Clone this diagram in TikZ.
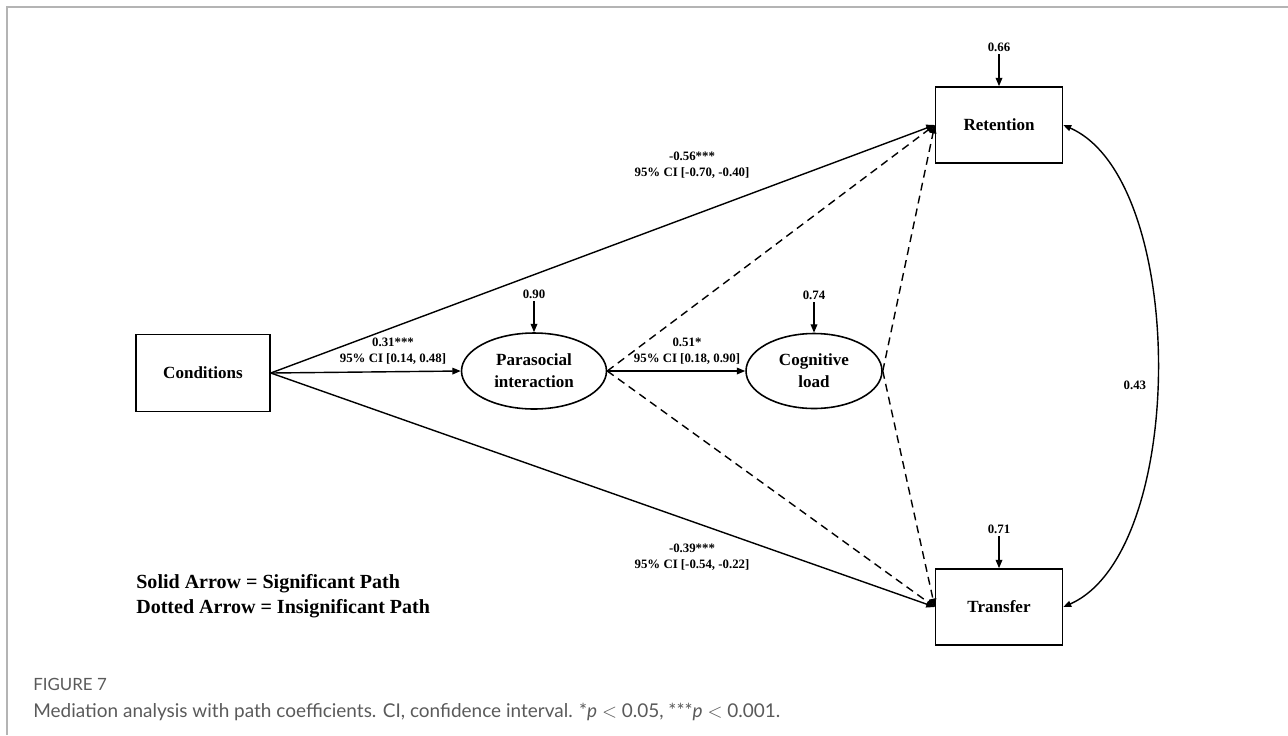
\documentclass[tikz,border=0pt]{standalone}
\usepackage{fontspec}
\setmainfont{Liberation Serif}
\newfontfamily\capfont{Lato}
\usetikzlibrary{shapes.geometric,arrows.meta}
\definecolor{framegray}{HTML}{B4B4B4}
\definecolor{capgray}{HTML}{5A5A5A}

\begin{document}
\begin{tikzpicture}[x=0.02cm,y=-0.02cm,
    >={Triangle[length=4.8pt,width=3.8pt]},
    box/.style={draw,line width=0.9pt,inner sep=0pt,minimum width=2.54cm,minimum height=1.52cm,
        font=\fontsize{9.7}{12.5}\selectfont\bfseries},
    latent/.style={ellipse,draw,line width=0.9pt,inner sep=0pt,minimum width=2.8cm,minimum height=1.52cm,
        align=center,font=\fontsize{9.7}{12.5}\selectfont\bfseries},
    coef/.style={inner sep=1.5pt,align=center,font=\fontsize{7.3}{9.1}\selectfont\bfseries},
    sig/.style={->,line width=0.8pt},
    insig/.style={->,line width=0.8pt,dash pattern=on 4.5pt off 3pt}]
    \useasboundingbox (0,0) rectangle (1288,735);
    \draw[framegray,line width=0.6pt] (7,735) -- (7,7) -- (1288,7);

    % variables
    \node[box,minimum width=2.68cm,minimum height=1.54cm] (cond) at (203,373) {Conditions};
    \node[latent,minimum width=2.9cm] (para) at (534,371) {Parasocial\\interaction};
    \node[latent,minimum width=2.72cm,minimum height=1.5cm] (cog) at (814,371) {Cognitive\\load};
    \node[box] (ret) at (999,125) {Retention};
    \node[box] (tra) at (999,607) {Transfer};

    % residuals
    \node[coef] (e1) at (534,294) {0.90};
    \node[coef] (e2) at (814,295) {0.74};
    \node[coef] (e3) at (999,47) {0.66};
    \node[coef] (e4) at (999,529) {0.71};
    \draw[sig] (e1) -- (para);
    \draw[sig] (e2) -- (cog);
    \draw[sig] (e3) -- (ret);
    \draw[sig] (e4) -- (tra);

    % paths
    \draw[sig] (cond.east) -- (para.west);
    \draw[sig] (para.east) -- (cog.west);
    \draw[sig] (cond.east) -- (ret.west);
    \draw[sig] (cond.east) -- (tra.west);
    \draw[insig] (para.east) -- (ret.west);
    \draw[insig] (para.east) -- (tra.west);
    \draw[insig] (cog.east) -- (ret.west);
    \draw[insig] (cog.east) -- (tra.west);
    \draw[{Triangle[length=4.5pt,width=3.5pt]}-{Triangle[length=4.5pt,width=3.5pt]},line width=0.8pt]
        (ret.east) .. controls (1188,180) and (1188,552) .. node[coef,pos=0.53,left=4pt] (cov) {0.43} (tra.east);

    % coefficients
    \node[coef] (c1) at (393,351) {0.31***\\95\% CI [0.14, 0.48]};
    \node[coef] (c2) at (687,351) {0.51*\\95\% CI [0.18, 0.90]};
    \node[coef] (c3) at (692,165) {-0.56***\\95\% CI [-0.70, -0.40]};
    \node[coef] (c4) at (692,557) {-0.39***\\95\% CI [-0.54, -0.22]};

    % legend
    \node[anchor=west,align=left,inner sep=0pt,font=\fontsize{11.4}{14.2}\selectfont\bfseries] (key) at (136,596)
        {Solid Arrow = Significant Path\\Dotted Arrow = Insignificant Path};

    % caption
    \node[anchor=west,inner sep=0pt,text=capgray,font=\capfont\fontsize{9.6}{11}\selectfont] (fig) at (33,684) {FIGURE 7};
    \node[anchor=west,inner sep=0pt,text=capgray,font=\capfont\fontsize{10.8}{13}\selectfont] (cap) at (33,712)
        {Mediation analysis with path coefficients. CI, confidence interval. *\textit{p} ${<}$ 0.05, ***\textit{p} ${<}$ 0.001.};
\end{tikzpicture}
\end{document}
